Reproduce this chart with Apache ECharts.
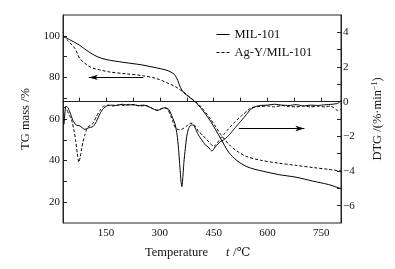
<!DOCTYPE html>
<html><head><meta charset="utf-8">
<script src="https://cdn.jsdelivr.net/npm/echarts@6.0.0/dist/echarts.min.js"></script>
<style>html,body{margin:0;padding:0;background:#fff}#c{width:395px;height:269px}</style>
</head><body><div id="c"></div>
<script>
const seriesNames = ['MIL-101', 'Ag-Y/MIL-101'];

// TG (left axis, %)
const tgT_MIL = [30,50,75,100,125,150,200,250,290,320,340,350,357,366,380,400,413,441,455,470,492,515,541,565,590,630,680,725,770,805];
const tg_MIL  = [100,98,95.6,92.5,90,88.6,87.2,86,84.6,83.4,81.5,78.5,75.3,72.8,70.8,68,65.6,59,55,50.5,44,40,37.2,35.8,34.8,33.3,32,30.2,28.5,26.5];
const tgT_AgY = [30,45,55,63,70,77,86,100,114,133,160,207,254,290,320,343,357,366,380,400,413,441,455,470,497,520,541,580,630,680,730,770,805];
const tg_AgY  = [100,97.5,95.6,94,91.5,89,87.5,85.6,84.4,83.6,82.6,81.7,80.8,79.5,77.4,75.6,74,73,71,68.2,66.2,60,56.5,52.5,47,44,42,40.2,38.8,37.7,36.6,35.8,35];

// DTG (right axis, %/min)
const dtgT_MIL = [33,38,44,50,58,67,77,91,100,114,123,133,142,152,165,180,195,210,225,240,255,270,285,295,305,315,325,335,343,348,352,356,359,361.5,364,367,371,375,380,387,394,400,407,413,420,427,434,440,445.5,450,455,462,469,478,487,496,506,515,525,533,541,553,567,580,600,620,640,660,680,700,720,740,760,780,795,805];
const dtg_MIL  = [-1.3,-0.25,-0.35,-0.65,-1.1,-1.35,-1.4,-1.6,-1.52,-1.43,-1.15,-0.7,-0.4,-0.25,-0.2,-0.22,-0.15,-0.2,-0.17,-0.22,-0.2,-0.3,-0.45,-0.5,-0.4,-0.35,-0.45,-0.9,-1.35,-1.9,-2.7,-3.8,-4.6,-4.9,-4.4,-3.5,-2.7,-2.0,-1.55,-1.35,-1.35,-1.6,-1.9,-2.1,-2.3,-2.5,-2.6,-2.75,-2.85,-2.75,-2.6,-2.45,-2.3,-2.2,-2.05,-1.85,-1.6,-1.38,-1.14,-0.95,-0.75,-0.45,-0.28,-0.22,-0.2,-0.15,-0.2,-0.22,-0.17,-0.25,-0.2,-0.22,-0.18,-0.15,-0.1,0.05];
const dtgT_AgY = [32,40,48,54,60,65,70,74,78,82,86,91,96,100,107,114,123,133,142,155,170,185,200,215,230,245,260,275,290,300,312,322,330,337,343,350,357,365,375,383,390,398,408,420,431,440,450,455,460,470,478,488,497,506,515,525,534,545,555,567,580,600,620,640,660,680,700,720,740,760,775,785,795,805];
const dtg_AgY  = [-0.3,-0.45,-0.8,-1.05,-1.6,-2.2,-3.0,-3.5,-3.2,-2.7,-2.3,-1.9,-1.6,-1.45,-1.35,-1.24,-0.86,-0.5,-0.28,-0.2,-0.25,-0.18,-0.22,-0.15,-0.2,-0.25,-0.22,-0.35,-0.5,-0.45,-0.35,-0.45,-0.8,-1.2,-1.5,-1.6,-1.62,-1.55,-1.4,-1.25,-1.25,-1.4,-1.72,-1.95,-2.2,-2.4,-2.6,-2.5,-2.38,-2.1,-1.9,-1.65,-1.43,-1.25,-1.05,-0.85,-0.7,-0.5,-0.35,-0.3,-0.28,-0.25,-0.3,-0.22,-0.28,-0.3,-0.25,-0.3,-0.27,-0.3,-0.25,-0.35,-0.5,-0.45];

// Axes
const xTicks = [75,150,225,300,375,450,525,600,675,750];
const xLabels = [150,300,450,600,750];
const leftTicks = [20,30,40,50,60,70,80,90,100];
const leftLabels = [20,40,60,80,100];
const rightTicks = [-6,-5,-4,-3,-2,-1,0,1,2,3,4];
const rightLabels = [-6,-4,-2,0,2,4];

// Annotation arrows: [xStart, xEnd, y]
const arrowTG = [254, 102, 80];
const arrowDTG = [520, 703, -1.55];

const pairs = (xs, ys) => xs.map((x, i) => [x, ys[i]]);
const serif = '"Liberation Serif", "DejaVu Serif", serif';
const ink = '#111';

const chart = echarts.init(document.getElementById('c'), null, {renderer: 'canvas'});
chart.setOption({
  animation: false,
  backgroundColor: '#fff',
  textStyle: {fontFamily: serif, color: ink},
  grid: {left: 63, right: 54, top: 15, bottom: 46, show: true, borderColor: '#222', borderWidth: 1},
  legend: {
    data: seriesNames, orient: 'vertical', left: 211, top: 23, itemWidth: 13, itemHeight: 8, itemGap: 5,
    itemStyle: {opacity: 0, borderWidth: 0},
    lineStyle: {width: 1},
    textStyle: {fontFamily: serif, fontSize: 12.5, color: ink}
  },
  xAxis: {
    type: 'value', min: 30, max: 805,
    axisLine: {show: true, lineStyle: {color: '#222', width: 1}},
    axisTick: {show: true, inside: true, length: 4, customValues: xTicks, lineStyle: {color: '#222'}},
    axisLabel: {customValues: xLabels, fontFamily: serif, fontSize: 11, color: ink, margin: 5},
    splitLine: {show: false}
  },
  yAxis: [
    {
      type: 'value', min: 10, max: 110, position: 'left',
      name: 'TG mass /%', nameLocation: 'middle', nameGap: 31,
      nameTextStyle: {fontFamily: serif, fontSize: 12.5, color: ink},
      axisLine: {show: true, lineStyle: {color: '#222', width: 1}},
      axisTick: {show: true, inside: true, length: 4, customValues: leftTicks, lineStyle: {color: '#222'}},
      axisLabel: {customValues: leftLabels, fontFamily: serif, fontSize: 11, color: ink, margin: 3},
      splitLine: {show: false}
    },
    {
      type: 'value', min: -7, max: 5, position: 'right',
      name: 'DTG /(%·min{sup|−1})', nameLocation: 'middle', nameGap: 30, nameRotate: 90,
      nameTextStyle: {fontFamily: serif, fontSize: 12.5, color: ink,
        rich: {sup: {fontFamily: serif, fontSize: 8, color: ink, verticalAlign: 'top', padding: [0,0,6,0]}}},
      axisLine: {show: true, lineStyle: {color: '#222', width: 1}},
      axisTick: {show: true, inside: true, length: 4, customValues: rightTicks, lineStyle: {color: '#222'}},
      axisLabel: {customValues: rightLabels, fontFamily: serif, fontSize: 11, color: ink, margin: 2,
        formatter: v => String(v).replace('-', '−')},
      splitLine: {show: false}
    }
  ],
  graphic: [
    {type: 'text', left: 145, top: 246, style: {text: 'Temperature', font: '12.5px ' + serif, fill: ink}},
    {type: 'text', left: 226, top: 246, style: {text: 't', font: 'italic 12.5px ' + serif, fill: ink}},
    {type: 'text', left: 233, top: 246, style: {text: '/℃', font: '12.5px ' + serif, fill: ink}}
  ],
  series: [
    {
      name: seriesNames[0], type: 'line', yAxisIndex: 0, data: pairs(tgT_MIL, tg_MIL),
      showSymbol: false, symbol: 'none', smooth: 0.3,
      lineStyle: {color: '#000', width: 1, type: 'solid'}, itemStyle: {color: '#000'},
      markLine: {
        silent: true, symbol: ['none', 'arrow'], symbolSize: [4, 9],
        lineStyle: {color: '#000', width: 1, type: 'solid'}, label: {show: false},
        data: [[{coord: [arrowTG[0], arrowTG[2]]}, {coord: [arrowTG[1], arrowTG[2]]}]]
      }
    },
    {
      name: seriesNames[1], type: 'line', yAxisIndex: 0, data: pairs(tgT_AgY, tg_AgY),
      showSymbol: false, symbol: 'none', smooth: 0.3,
      lineStyle: {color: '#000', width: 1, type: [3, 2]}, itemStyle: {color: '#000'}
    },
    {
      name: seriesNames[0], type: 'line', yAxisIndex: 1, data: pairs(dtgT_MIL, dtg_MIL),
      showSymbol: false, symbol: 'none', smooth: 0.2,
      lineStyle: {color: '#000', width: 1, type: 'solid'}, itemStyle: {color: '#000'},
      markLine: {
        silent: true, symbol: ['none', 'arrow'], symbolSize: [4, 9],
        lineStyle: {color: '#000', width: 1, type: 'solid'}, label: {show: false},
        data: [[{coord: [arrowDTG[0], arrowDTG[2]]}, {coord: [arrowDTG[1], arrowDTG[2]]}]]
      }
    },
    {
      name: seriesNames[1], type: 'line', yAxisIndex: 1, data: pairs(dtgT_AgY, dtg_AgY),
      showSymbol: false, symbol: 'none', smooth: 0.2,
      lineStyle: {color: '#000', width: 1, type: [3, 2]}, itemStyle: {color: '#000'}
    }
  ]
});
</script></body></html>
